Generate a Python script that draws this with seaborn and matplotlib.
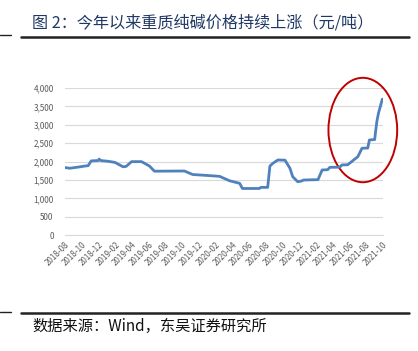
import matplotlib
matplotlib.use("Agg")
import matplotlib.pyplot as plt
import matplotlib.dates as mdates
from matplotlib.patches import Ellipse
from matplotlib.lines import Line2D
import seaborn as sns
import pandas as pd

# heavy soda ash price, yuan/ton
dates = [
    "2018-08-01", "2018-08-19", "2018-09-17", "2018-10-13", "2018-10-25",
    "2018-11-05", "2018-12-01", "2018-12-04", "2018-12-10", "2019-01-05",
    "2019-01-30", "2019-03-01", "2019-03-12", "2019-04-01", "2019-05-07",
    "2019-06-05", "2019-06-23", "2019-10-10", "2019-11-09", "2020-01-09",
    "2020-02-15", "2020-03-22", "2020-04-28", "2020-05-08", "2020-07-09",
    "2020-07-14", "2020-08-08", "2020-08-16", "2020-08-27", "2020-09-14",
    "2020-10-10", "2020-10-28", "2020-11-07", "2020-11-25", "2020-12-08",
    "2020-12-17", "2021-02-07", "2021-02-22", "2021-03-14", "2021-03-22",
    "2021-04-27", "2021-05-05", "2021-05-26", "2021-07-02", "2021-07-17",
    "2021-08-07", "2021-08-13", "2021-09-01", "2021-09-09", "2021-09-15",
    "2021-09-29",
]
prices = [
    1840, 1820, 1850, 1880, 1890,
    2020, 2030, 2070, 2030, 2010,
    1980, 1860, 1870, 2000, 2000,
    1880, 1740, 1745, 1650, 1620,
    1600, 1480, 1410, 1270, 1270,
    1300, 1300, 1880, 1955, 2045,
    2040, 1818, 1590, 1455, 1470,
    1500, 1510, 1773, 1780, 1845,
    1850, 1910, 1915, 2136, 2364,
    2370, 2590, 2600, 3090, 3320,
    3700,
]
tick_start = "2018-08-01"
tick_end = "2021-10-01"

title = "图 2：今年以来重质纯碱价格持续上涨（元/吨）"
source = "数据来源：Wind，东吴证券研究所"

sns.set_style("white")
plt.rcParams["font.family"] = ["Noto Sans CJK SC", "DejaVu Sans"]

df = pd.DataFrame({"date": pd.to_datetime(dates), "price": prices})

fig = plt.figure(figsize=(4.18, 3.51), dpi=100)
ax = fig.add_axes([0.155, 0.330, 0.761, 0.419])

sns.lineplot(data=df, x="date", y="price", ax=ax, color="#4F81BD",
             linewidth=2)

ax.set_ylim(0, 4000)
ax.set_yticks(range(0, 4001, 500))
ax.yaxis.set_major_formatter(matplotlib.ticker.StrMethodFormatter("{x:,.0f}"))
ticks = pd.date_range(tick_start, tick_end, freq="2MS")
ax.set_xlim(ticks[0], ticks[-1])
ax.set_xticks(ticks)
ax.xaxis.set_major_formatter(mdates.DateFormatter("%Y-%m"))
ax.set_xlabel("")
ax.set_ylabel("")

ax.grid(axis="y", color="#D9D9D9", linewidth=0.8)
for s in ["left", "top", "right"]:
    ax.spines[s].set_visible(False)
ax.spines["bottom"].set_color("#D9D9D9")
ax.tick_params(axis="y", length=0, labelsize=5.8, labelcolor="#595959", pad=8)
ax.tick_params(axis="x", length=3, direction="inout", color="#D9D9D9",
               labelsize=5.8, labelcolor="#595959", pad=2)
plt.setp(ax.get_xticklabels(), rotation=45, ha="right", rotation_mode="anchor")

# red ellipse highlighting the recent surge
center = mdates.date2num(pd.Timestamp("2021-07-20"))
ax.add_patch(Ellipse((center, 2860), width=250, height=2840, fill=False,
                     edgecolor="#C00000", linewidth=1.4, clip_on=False))

# header / footer
fig.text(0.077, 0.934, title, fontsize=11.6, color="#1F3864",
         fontweight="medium", va="center", ha="left")
fig.add_artist(Line2D([0.050, 0.979], [0.895, 0.895], color="#222222", lw=1.8))
fig.add_artist(Line2D([0.0, 0.027], [0.901, 0.901], color="#222222", lw=1.0))
fig.add_artist(Line2D([0.050, 0.979], [0.109, 0.109], color="#222222", lw=1.8))
fig.add_artist(Line2D([0.0, 0.027], [0.111, 0.111], color="#222222", lw=1.0))
fig.text(0.077, 0.071, source, fontsize=11, color="#111111",
         va="center", ha="left")

fig.savefig("out.png", dpi=100)
